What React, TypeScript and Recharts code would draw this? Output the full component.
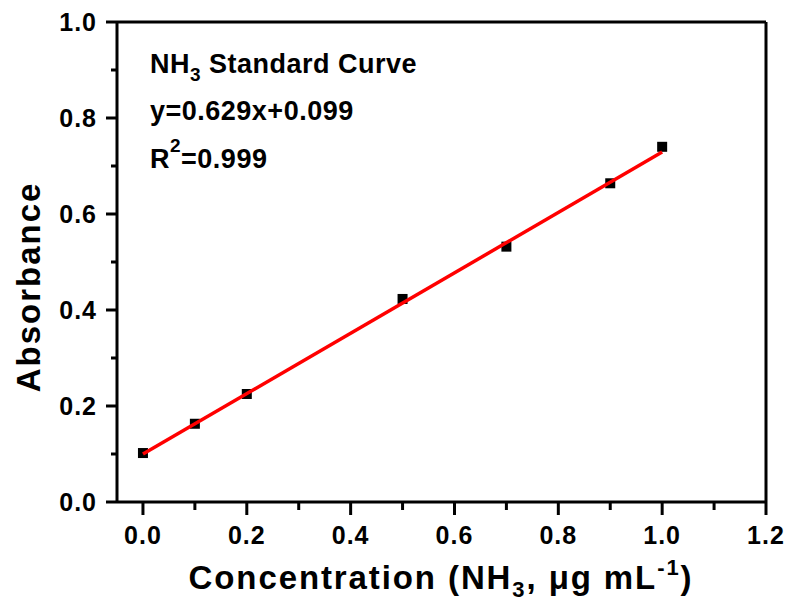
import React from "react";
import {
  ComposedChart,
  Scatter,
  XAxis,
  YAxis,
  ReferenceLine,
} from "recharts";

const concentration = [0, 0.1, 0.2, 0.5, 0.7, 0.9, 1.0];
const absorbance = [0.102, 0.163, 0.225, 0.423, 0.532, 0.664, 0.74];
const fitX = [0, 1.0];
const fitY = [0.1, 0.729];
const xTicks = [0, 0.1, 0.2, 0.3, 0.4, 0.5, 0.6, 0.7, 0.8, 0.9, 1.0, 1.1, 1.2];
const yTicks = [0, 0.1, 0.2, 0.3, 0.4, 0.5, 0.6, 0.7, 0.8, 0.9, 1.0];

const points = concentration.map((x, i) => ({ x, y: absorbance[i] }));
const fit = fitX.map((x, i) => ({ x, y: fitY[i] }));

const FONT = "'Liberation Sans', Arial, sans-serif";

const isMajor = (v: number) => Math.round(v * 10) % 2 === 0;

const XTick = (props: any) => {
  const { x, y, payload } = props;
  const major = isMajor(payload.value);
  return (
    <g>
      <line x1={x} x2={x} y1={y} y2={y + (major ? 13 : 8)} stroke="#000" strokeWidth={3} />
      {major && (
        <text
          x={x}
          y={y + 42}
          textAnchor="middle"
          fontFamily={FONT}
          fontWeight="bold"
          fontSize={25}
          letterSpacing={1}
          fill="#000"
        >
          {payload.value.toFixed(1)}
        </text>
      )}
    </g>
  );
};

const YTick = (props: any) => {
  const { x, y, payload } = props;
  const major = isMajor(payload.value);
  return (
    <g>
      <line x1={x} x2={x - (major ? 11 : 6)} y1={y} y2={y} stroke="#000" strokeWidth={3} />
      {major && (
        <text
          x={x - 20}
          y={y + 9}
          textAnchor="end"
          fontFamily={FONT}
          fontWeight="bold"
          fontSize={25}
          letterSpacing={1}
          fill="#000"
        >
          {payload.value.toFixed(1)}
        </text>
      )}
    </g>
  );
};

const Square = (props: any) => {
  const { cx, cy } = props;
  return <rect x={cx - 5} y={cy - 5} width={10} height={10} fill="#000" />;
};

export default function App() {
  return (
    <div style={{ position: "absolute", left: 0, top: 0, background: "#fff" }}>
      <ComposedChart
        width={790}
        height={606}
        margin={{ top: 22, right: 24, bottom: 0, left: 0 }}
      >
        <XAxis
          type="number"
          dataKey="x"
          domain={[-0.05, 1.2]}
          ticks={xTicks}
          allowDataOverflow
          height={104}
          stroke="#000"
          strokeWidth={3}
          tickSize={0}
          tickMargin={0}
          tick={<XTick />}
          interval={0}
        />
        <YAxis
          type="number"
          dataKey="y"
          domain={[0, 1]}
          ticks={yTicks}
          allowDataOverflow
          width={117}
          stroke="#000"
          strokeWidth={3}
          tickSize={0}
          tickMargin={0}
          tick={<YTick />}
          interval={0}
        />
        <ReferenceLine y={1} stroke="#000" strokeWidth={3} />
        <ReferenceLine x={1.2} stroke="#000" strokeWidth={3} />
        <Scatter data={points} shape={<Square />} isAnimationActive={false} />
        <Scatter
          data={fit}
          line={{ stroke: "#ff0000", strokeWidth: 3.5 }}
          shape={() => null}
          isAnimationActive={false}
        />
        <text fontFamily={FONT} fontWeight="bold" fontSize={27} letterSpacing={0.5} fill="#000">
          <tspan x={150} y={73}>NH</tspan>
          <tspan fontSize={19} dy={8}>3</tspan>
          <tspan dy={-8}> Standard Curve</tspan>
        </text>
        <text x={150} y={120} fontFamily={FONT} fontWeight="bold" fontSize={27} letterSpacing={0.5} fill="#000">
          y=0.629x+0.099
        </text>
        <text fontFamily={FONT} fontWeight="bold" fontSize={27} letterSpacing={0.5} fill="#000">
          <tspan x={150} y={168}>R</tspan>
          <tspan fontSize={19} dy={-16}>2</tspan>
          <tspan dy={16}>=0.999</tspan>
        </text>
        <text
          transform="translate(40,287) rotate(-90)"
          textAnchor="middle"
          fontFamily={FONT}
          fontWeight="bold"
          fontSize={33}
          letterSpacing={2}
          fill="#000"
        >
          Absorbance
        </text>
        <text
          x={441}
          y={589}
          textAnchor="middle"
          fontFamily={FONT}
          fontWeight="bold"
          fontSize={33}
          letterSpacing={1.9}
          fill="#000"
        >
          Concentration (NH
          <tspan fontSize={22} dy={8}>3</tspan>
          <tspan dy={-8}>, μg mL</tspan>
          <tspan fontSize={22} dy={-14}>-1</tspan>
          <tspan dy={14}>)</tspan>
        </text>
      </ComposedChart>
    </div>
  );
}
